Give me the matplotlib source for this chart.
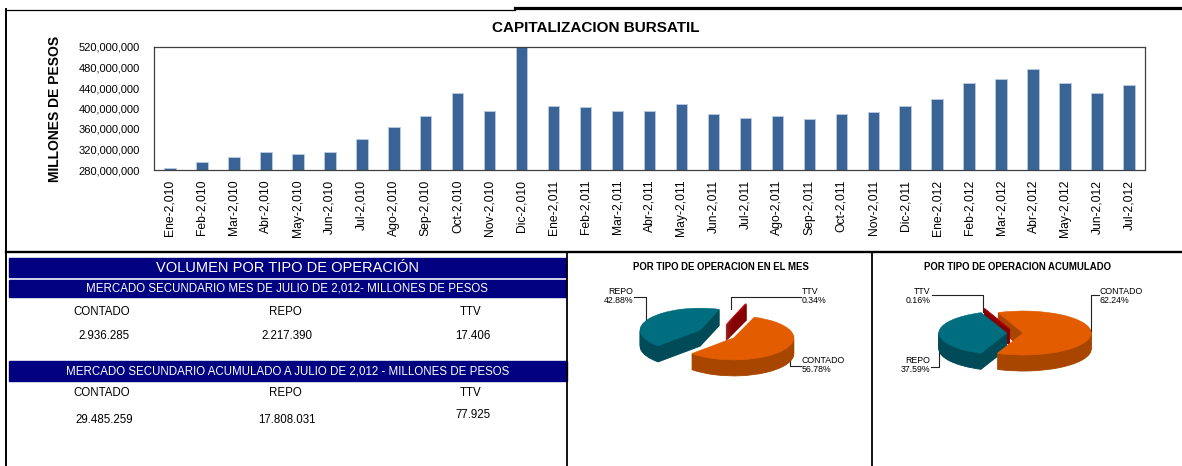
import matplotlib.pyplot as plt
import numpy as np
from matplotlib.patches import Rectangle
from matplotlib.ticker import FuncFormatter

plt.rcParams['font.family'] = ['Liberation Sans', 'DejaVu Sans']

W, H = 1182, 466

# datos de la grafica de barras (millones de pesos, en millones)
meses = ['Ene', 'Feb', 'Mar', 'Abr', 'May', 'Jun', 'Jul', 'Ago', 'Sep', 'Oct', 'Nov', 'Dic']
etiquetas = ([m + '-2,010' for m in meses] + [m + '-2,011' for m in meses]
             + [m + '-2,012' for m in meses[:7]])
capitalizacion = [284.5, 295, 305, 314.5, 311, 314.5, 340, 363.5, 386, 431, 395, 525,
                  404.5, 402.5, 395.5, 395.5, 408, 390, 381, 386, 379, 390, 393.5, 404.5,
                  419, 449.5, 458, 477.5, 449.5, 431, 445.5]

# volumen por tipo de operacion
tabla_tipos = ['CONTADO', 'REPO', 'TTV']
volumen_mes = ['2.936.285', '2.217.390', '17.406']
volumen_acum = ['29.485.259', '17.808.031', '77.925']

# pays (orden: TTV, REPO, CONTADO)
tipos = ['TTV', 'REPO', 'CONTADO']
pct_mes = [0.34, 42.88, 56.78]
pct_acum = [0.16, 37.59, 62.24]

color_sup = ['#C8000A', '#006E7E', '#E35D00']
color_lado = ['#850000', '#004B57', '#A84600']

fig = plt.figure(figsize=(W / 100, H / 100), dpi=100)


def px_axes(x0, y0, x1, y1, **kw):
    return fig.add_axes([x0 / W, 1 - y1 / H, (x1 - x0) / W, (y1 - y0) / H], **kw)


# capa de fondo en pixeles para lineas, bandas y textos
ov = px_axes(0, 0, W, H)
ov.set_xlim(0, W)
ov.set_ylim(H, 0)
ov.axis('off')

ov.plot([6, 6], [9, H], color='black', lw=1.4)
ov.plot([6, 515], [9.5, 9.5], color='black', lw=0.9)
ov.plot([515, W], [7.5, 7.5], color='black', lw=2.3)
ov.plot([6, W], [252, 252], color='black', lw=1.7)
ov.plot([567, 567], [252, H], color='black', lw=1.3)
ov.plot([872, 872], [252, H], color='black', lw=1.3)

# ---- barras ----
ax = px_axes(154, 47, 1145, 170)
x = np.arange(len(etiquetas))
ax.bar(x, capitalizacion, width=0.36, color='#3A6496', edgecolor='#B8CCE4', linewidth=0.6)
ax.set_xlim(-0.5, len(x) - 0.5)
ax.set_ylim(280, 520)
ax.set_yticks(np.arange(280, 521, 40))
ax.yaxis.set_major_formatter(FuncFormatter(lambda v, _: f'{v * 1e6:,.0f}'))
ax.set_xticks(x)
ax.set_xticklabels(etiquetas, rotation=90)
ax.tick_params(axis='y', length=0, labelsize=8, pad=10)
ax.tick_params(axis='x', length=0, labelsize=8.7, pad=7)
for s in ax.spines.values():
    s.set_color('#404040')
    s.set_linewidth(0.9)

fig.text(596 / W, 1 - 28 / H, 'CAPITALIZACION BURSATIL', ha='center', va='center',
         fontsize=11, weight='bold')
fig.text(55 / W, 1 - 109 / H, 'MILLONES DE PESOS', rotation=90, ha='center',
         va='center', fontsize=10, weight='bold')

# ---- tabla ----
navy = '#000080'
ov.add_patch(Rectangle((9, 258), 557, 19, color=navy))
ov.add_patch(Rectangle((9, 279.5), 557, 17.5, color=navy))
ov.add_patch(Rectangle((9, 361), 558, 20, color=navy))
ov.text(287, 267.5, 'VOLUMEN POR TIPO DE OPERACIÓN', color='white', ha='center',
        va='center', fontsize=10.5)
ov.text(287, 288.5, 'MERCADO SECUNDARIO MES DE JULIO DE 2,012- MILLONES DE PESOS',
        color='white', ha='center', va='center', fontsize=8.3)
ov.text(288, 371, 'MERCADO SECUNDARIO ACUMULADO A JULIO DE 2,012 - MILLONES DE PESOS',
        color='white', ha='center', va='center', fontsize=8.3)

col_x = [102, 285, 471]
for cx, tipo, vm, va_ in zip(col_x, tabla_tipos, volumen_mes, volumen_acum):
    ov.text(cx, 312, tipo, ha='center', va='center', fontsize=8.3)
    ov.text(cx + 2, 336, vm, ha='center', va='center', fontsize=8.3)
    ov.text(cx, 393, tipo, ha='center', va='center', fontsize=8.3)
    ov.text(cx + 2, 420 if tipo != 'TTV' else 415, va_, ha='center', va='center',
            fontsize=8.3)


# ---- pays 3d ----
def pie3d(box, cx, cy, rx, ry, depth, vals, start, explode):
    a = px_axes(*box)
    for k in range(depth, 0, -1):
        ws, _ = a.pie(vals, startangle=start, explode=explode, colors=color_lado,
                      center=(0, -k / ry), radius=1, wedgeprops=dict(linewidth=0.6))
        for w in ws:
            w.set_edgecolor(w.get_facecolor())
    ws, _ = a.pie(vals, startangle=start, explode=explode, colors=color_sup,
                  center=(0, 0), radius=1, wedgeprops=dict(linewidth=0.4))
    for w in ws:
        w.set_edgecolor(w.get_facecolor())
    a.set_aspect('auto')
    x0, y0, x1, y1 = box
    a.set_xlim((x0 - cx) / rx, (x1 - cx) / rx)
    a.set_ylim((cy - y1) / ry, (cy - y0) / ry)
    a.axis('off')


pie3d((570, 275, 870, 460), 717, 334, 60, 22, 16, pct_mes, 70, [0.45, 0.33, 0.33])
pie3d((875, 275, 1180, 460), 1015, 333, 68, 22, 16, pct_acum, 111.7, [0.2, 0.12, 0.12])

ov.text(721, 266.5, 'POR TIPO DE OPERACION EN EL MES', ha='center', va='center',
        fontsize=6.9, weight='bold')
ov.text(1017, 266.5, 'POR TIPO DE OPERACION ACUMULADO', ha='center', va='center',
        fontsize=6.9, weight='bold')

lk = dict(color='#222222', lw=0.8)
fs = 6.3
# pay del mes
ov.text(633, 296, f'{tipos[1]}\n{pct_mes[1]:.2f}%', ha='right', va='center',
        fontsize=fs, linespacing=0.9)
ov.plot([634, 646, 646], [297, 297, 323], **lk)
ov.text(802, 296, f'{tipos[0]}\n{pct_mes[0]:.2f}%', ha='left', va='center',
        fontsize=fs, linespacing=0.9)
ov.plot([801, 731, 731], [297, 297, 309], **lk)
ov.text(802, 365, f'{tipos[2]}\n{pct_mes[2]:.2f}%', ha='left', va='center',
        fontsize=fs, linespacing=0.9)
ov.plot([801, 790, 790], [366, 366, 342], **lk)
# pay acumulado
ov.text(930, 296, f'{tipos[0]}\n{pct_acum[0]:.2f}%', ha='right', va='center',
        fontsize=fs, linespacing=0.9)
ov.plot([932, 983, 983], [295, 295, 312], **lk)
ov.text(1100, 296, f'{tipos[2]}\n{pct_acum[2]:.2f}%', ha='left', va='center',
        fontsize=fs, linespacing=0.9)
ov.plot([1099, 1091, 1091], [295, 295, 332], **lk)
ov.text(930, 365, f'{tipos[1]}\n{pct_acum[1]:.2f}%', ha='right', va='center',
        fontsize=fs, linespacing=0.9)
ov.plot([931, 939, 939], [367, 367, 333], **lk)

fig.savefig('out.png', dpi=100)
